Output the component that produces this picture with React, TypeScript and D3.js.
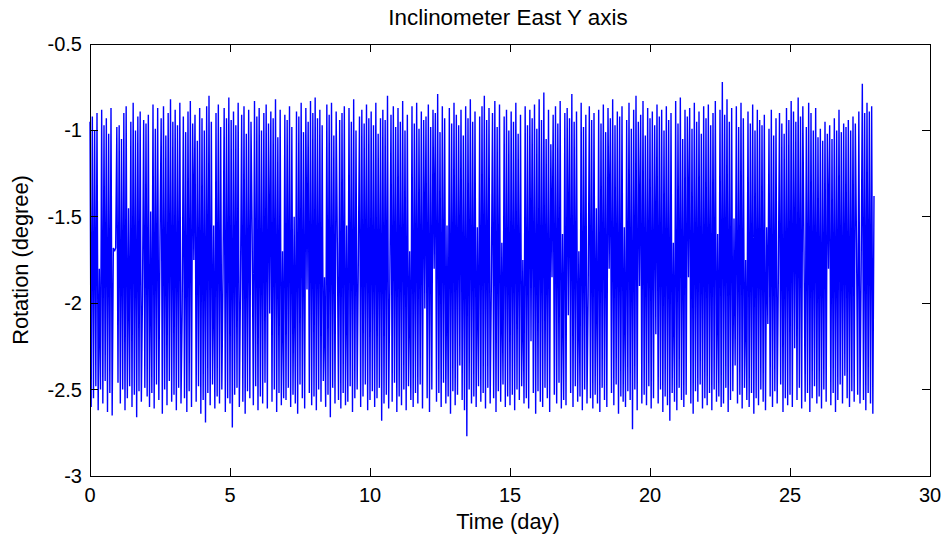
import React from "react";
import * as d3 from "d3";

const TITLE = "Inclinometer East Y axis";
const X_LABEL = "Time (day)";
const Y_LABEL = "Rotation (degree)";
const X_TICKS = [0, 5, 10, 15, 20, 25, 30];
const Y_TICKS = [-0.5, -1, -1.5, -2, -2.5, -3];
const X_DOMAIN = [0, 30];
const Y_DOMAIN = [-3, -0.5];
// one reading per hour, expressed in days
const SAMPLE_DAYS = 1 / 24;

// hourly readings, days 0-6
const week1 = [
  -0.95,-2.60,-0.92,-2.55,-1.00,-2.48,-0.90,-2.62,-1.80,-2.50,-0.88,-2.58,-0.97,-2.45,-0.93,-2.63,-1.02,-2.52,-0.87,-2.65,-1.68,-1.70,-1.68,-0.98,
  -2.46,-0.97,-2.58,-1.05,-2.50,-0.90,-2.62,-0.86,-2.55,-1.45,-2.48,-0.95,-2.60,-0.84,-2.53,-1.00,-2.66,-0.92,-2.51,-0.89,-2.57,-1.95,-0.94,-2.49,
  -0.96,-2.54,-0.91,-2.60,-1.47,-2.52,-0.85,-2.61,-0.99,-2.47,-0.87,-2.56,-1.62,-0.93,-2.64,-0.86,-2.50,-1.03,-2.59,-0.90,-2.45,-0.82,-2.57,-0.95,
  -2.53,-0.88,-2.62,-0.97,-2.49,-0.84,-2.58,-2.05,-0.92,-2.55,-1.01,-2.63,-0.89,-2.51,-0.83,-2.60,-0.96,-1.75,-0.91,-2.57,-1.06,-2.48,-0.87,-2.64,
  -0.93,-2.56,-1.00,-2.69,-0.86,-2.52,-0.80,-2.59,-0.95,-2.47,-1.55,-2.61,-0.90,-2.54,-0.85,-2.58,-0.98,-2.50,-1.85,-0.87,-2.63,-0.93,-2.55,-0.81,
  -2.58,-0.94,-2.72,-0.89,-2.53,-0.97,-2.49,-0.84,-2.60,-1.90,-0.91,-2.57,-0.86,-2.64,-1.02,-2.51,-0.88,-2.55,-0.95,-1.60,-2.59,-0.83,-2.48,-0.92,
  -2.62,-0.87,-2.54,-1.00,-2.58,-0.90,-2.46,-0.85,-2.61,-0.96,-2.06,-0.89,-2.57,-0.93,-2.50,-0.82,-2.63,-1.04,-2.52,-0.88,-2.59,-1.70,-2.55,-0.91,
];

// days 7-13
const week2 = [
  -2.56,-0.94,-2.49,-0.86,-2.60,-0.98,-2.53,-1.50,-2.58,-0.89,-2.64,-0.92,-2.47,-0.84,-2.55,-1.01,-2.61,-0.87,-1.92,-0.95,-2.52,-0.83,-2.59,-0.90,
  -2.54,-0.81,-2.62,-0.93,-2.50,-0.88,-2.57,-0.97,-2.45,-1.85,-2.60,-0.85,-2.53,-0.91,-2.66,-0.84,-2.49,-1.03,-2.58,-0.89,-1.65,-2.56,-0.94,-2.61,
  -0.90,-2.52,-0.86,-2.59,-1.55,-2.57,-0.87,-2.48,-0.95,-2.63,-0.82,-2.55,-1.00,-2.50,-1.75,-0.92,-2.60,-0.88,-2.54,-0.96,-2.47,-0.85,-2.62,-0.93,
  -2.56,-0.89,-2.51,-0.97,-2.60,-0.84,-2.55,-1.02,-2.49,-0.93,-2.68,-0.88,-2.58,-0.94,-2.53,-0.80,-2.61,-1.88,-0.91,-2.57,-0.86,-2.46,-0.98,-2.63,
  -0.87,-2.54,-0.95,-2.59,-0.83,-2.50,-1.00,-2.62,-0.91,-2.48,-1.70,-2.56,-0.86,-2.60,-0.96,-2.52,-0.84,-2.58,-0.99,-2.47,-0.89,-2.61,-0.94,-2.03,
  -0.92,-2.55,-0.85,-2.63,-0.98,-2.50,-0.88,-1.80,-0.90,-2.57,-0.79,-2.52,-1.01,-2.60,-0.86,-2.46,-0.93,-2.58,-1.55,-2.54,-0.87,-2.64,-0.96,-2.51,
  -0.84,-2.59,-0.91,-2.53,-0.97,-2.36,-0.88,-2.56,-1.03,-2.62,-0.86,-2.77,-0.93,-2.50,-0.82,-2.58,-0.95,-2.54,-0.89,-2.60,-1.56,-2.48,-0.92,-2.57,
];

// days 14-20
const week3 = [
  -0.86,-2.52,-0.80,-2.61,-0.94,-2.49,-0.87,-2.58,-1.90,-0.90,-2.55,-0.83,-2.63,-0.98,-2.51,-0.85,-2.57,-1.65,-2.47,-0.92,-2.60,-0.88,-2.54,-1.00,
  -2.59,-0.89,-2.53,-0.95,-2.62,-0.84,-2.50,-1.02,-2.56,-0.91,-2.48,-1.75,-2.58,-0.86,-2.55,-0.97,-2.61,-0.88,-2.22,-0.93,-2.52,-0.85,-2.64,-0.99,
  -2.51,-0.82,-2.57,-0.94,-2.60,-0.78,-2.49,-1.05,-2.55,-0.88,-2.63,-1.08,-1.85,-0.91,-2.53,-0.86,-2.58,-0.96,-2.46,-0.83,-2.61,-1.60,-2.56,-0.90,
  -2.59,-0.87,-2.07,-0.93,-2.52,-0.79,-2.60,-0.95,-2.48,-0.89,-2.57,-1.70,-2.54,-0.84,-2.62,-0.98,-2.50,-0.91,-2.58,-1.95,-0.86,-2.55,-0.94,-2.61,
  -0.90,-2.53,-1.45,-2.58,-0.88,-2.63,-0.96,-2.49,-0.85,-2.56,-1.01,-2.60,-0.87,-1.80,-0.93,-2.52,-0.82,-2.59,-0.97,-2.47,-0.89,-2.64,-0.92,-2.54,
  -0.86,-2.57,-1.56,-2.60,-0.94,-2.51,-0.84,-2.56,-0.99,-2.73,-0.88,-2.50,-0.80,-2.62,-0.95,-1.90,-0.91,-2.58,-0.83,-2.53,-1.03,-2.59,-0.87,-2.48,
  -0.93,-2.61,-0.89,-2.55,-0.97,-2.18,-0.85,-2.58,-0.92,-2.50,-0.88,-2.63,-1.00,-2.54,-0.86,-2.59,-0.94,-2.68,-0.90,-2.52,-1.65,-2.57,-0.83,-2.62,
];

// days 21-28
const week4 = [
  -0.96,-2.49,-0.81,-2.56,-1.05,-2.60,-0.88,-2.53,-0.92,-1.85,-0.87,-2.58,-0.99,-2.64,-0.84,-2.51,-0.95,-2.57,-0.89,-2.47,-1.02,-2.61,-0.86,-2.55,
  -0.93,-2.59,-0.85,-2.52,-0.97,-2.62,-0.90,-2.50,-0.83,-2.57,-1.60,-2.54,-0.88,-2.60,-0.72,-2.58,-0.91,-2.49,-0.82,-2.63,-0.95,-2.56,-0.87,-2.51,
  -1.51,-2.36,-0.86,-2.58,-0.98,-2.53,-0.84,-2.61,-0.93,-2.49,-1.75,-2.56,-0.89,-2.60,-0.96,-2.52,-0.85,-2.64,-1.00,-2.55,-0.88,-2.59,-0.94,-2.50,
  -0.97,-2.57,-0.91,-2.62,-1.56,-2.12,-0.99,-2.54,-0.88,-2.60,-1.03,-2.51,-0.93,-2.58,-1.85,-0.90,-2.47,-0.96,-2.63,-1.02,-2.55,-0.87,-2.59,-0.94,
  -2.53,-0.83,-2.60,-0.89,-2.26,-0.95,-2.56,-0.81,-2.49,-0.92,-2.61,-0.86,-1.70,-2.57,-0.98,-2.52,-0.84,-2.63,-0.90,-2.55,-1.00,-2.48,-0.87,-2.58,
  -1.04,-2.54,-0.99,-2.61,-1.06,-2.50,-0.95,-2.57,-1.02,-1.80,-0.97,-2.59,-1.05,-2.52,-0.93,-2.63,-1.00,-2.56,-0.88,-2.47,-1.01,-2.58,-0.96,-2.42,
  -0.98,-2.55,-0.94,-2.60,-1.00,-2.51,-0.92,-2.57,-0.96,-1.65,-2.53,-0.89,-2.58,-1.80,-0.73,-2.56,-0.90,-2.62,-0.84,-2.52,-0.89,-2.58,-0.86,-2.64,-1.38,
];

const readings = [...week1, ...week2, ...week3, ...week4];

export default function App() {
  const W = 944;
  const H = 538;
  const left = 90, right = 930, top = 44, bottom = 476;
  const x = d3.scaleLinear().domain(X_DOMAIN).range([left, right]);
  const y = d3.scaleLinear().domain(Y_DOMAIN).range([bottom, top]);
  const line = d3
    .line<number>()
    .x((_, i) => x(i * SAMPLE_DAYS))
    .y((d) => y(d));
  const tickLen = 8;
  const font = "'Liberation Sans', Arial, Helvetica, sans-serif";

  return (
    <svg
      width={W}
      height={H}
      style={{ position: "absolute", left: 0, top: 0, background: "#fff" }}
    >
      <rect x={0} y={0} width={W} height={H} fill="#fff" />
      <path
        d={line(readings) || ""}
        fill="none"
        stroke="#0000ff"
        strokeWidth={1.4}
        strokeLinejoin="miter"
        strokeMiterlimit={2}
      />
      <g stroke="#000" strokeWidth={1} shapeRendering="crispEdges">
        <rect
          x={left}
          y={top}
          width={right - left}
          height={bottom - top}
          fill="none"
        />
        {X_TICKS.map((t) => (
          <g key={"xt" + t}>
            <line x1={x(t)} x2={x(t)} y1={bottom} y2={bottom - tickLen} />
            <line x1={x(t)} x2={x(t)} y1={top} y2={top + tickLen} />
          </g>
        ))}
        {Y_TICKS.map((t) => (
          <g key={"yt" + t}>
            <line x1={left} x2={left + tickLen} y1={y(t)} y2={y(t)} />
            <line x1={right} x2={right - tickLen} y1={y(t)} y2={y(t)} />
          </g>
        ))}
      </g>
      <g fontFamily={font} fontSize={20} fill="#000">
        {X_TICKS.map((t) => (
          <text key={"xl" + t} x={x(t)} y={502} textAnchor="middle">
            {String(t)}
          </text>
        ))}
        {Y_TICKS.map((t) => (
          <text
            key={"yl" + t}
            x={82}
            y={y(t)}
            textAnchor="end"
            dominantBaseline="central"
          >
            {String(t)}
          </text>
        ))}
      </g>
      <g fontFamily={font} fill="#000">
        <text x={(left + right) / 2 - 2} y={25} textAnchor="middle" fontSize={22.4}>
          {TITLE}
        </text>
        <text x={(left + right) / 2 - 2} y={529} textAnchor="middle" fontSize={21.8}>
          {X_LABEL}
        </text>
        <text
          transform={`translate(28,${(top + bottom) / 2}) rotate(-90)`}
          textAnchor="middle"
          fontSize={21.8}
        >
          {Y_LABEL}
        </text>
      </g>
    </svg>
  );
}
